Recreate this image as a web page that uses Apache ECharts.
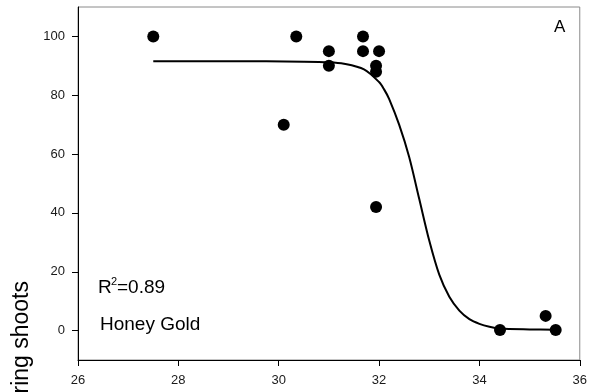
<!DOCTYPE html>
<html>
<head>
<meta charset="utf-8">
<script src="https://cdn.jsdelivr.net/npm/echarts@6/dist/echarts.min.js"></script>
<style>
  html, body { margin: 0; padding: 0; background: #fff; }
  #chart { width: 590px; height: 392px; }
</style>
</head>
<body>
<div id="chart"></div>
<script>
// Observed flowering shoots (%) against temperature for Honey Gold
const obsTemp = [27.5, 30.1, 30.35, 31.0, 31.0, 31.68, 31.68, 32.0, 31.94, 31.94, 31.94, 34.41, 35.32, 35.52];
const obsFlowering = [100, 70, 100, 95, 90, 100, 95, 95, 90, 88, 42, 0.2, 5, 0.2];

// Fitted response curve, sampled along its length
const fitTemp = [27.5, 29.0, 30.5, 31.0, 31.3, 31.7, 32.0, 32.1, 32.2, 32.4, 32.6, 32.8, 33.0, 33.2, 33.4, 33.6, 33.8, 34.0, 34.2, 34.4, 35.0, 35.5];
const fitFlowering = [91.6, 91.6, 91.4, 91.2, 90.7, 88.8, 84.5, 82.0, 78.8, 70.0, 59.0, 44.8, 30.6, 19.0, 11.5, 6.8, 3.9, 2.3, 1.3, 0.7, 0.4, 0.3];

// Axis ticks
const xTicks = [26, 28, 30, 32, 34, 36];
const yTicks = [0, 20, 40, 60, 80, 100];

const labelFont = 'Liberation Sans, Arial, sans-serif';

const chart = echarts.init(document.getElementById('chart'), null, { renderer: 'canvas' });

chart.setOption({
  animation: false,
  backgroundColor: '#ffffff',
  grid: {
    left: 78, right: 10, top: 7, bottom: 32,
    show: true, borderColor: '#8a8a8a', borderWidth: 1, backgroundColor: 'transparent'
  },
  xAxis: {
    type: 'value',
    min: xTicks[0], max: xTicks[xTicks.length - 1], interval: 2,
    axisLine: { onZero: false, lineStyle: { color: '#000', width: 1 } },
    axisTick: { show: true, length: 6, lineStyle: { color: '#000' } },
    axisLabel: { color: '#1a1a1a', fontFamily: labelFont, fontSize: 13, margin: 14 },
    splitLine: { show: false }
  },
  yAxis: {
    type: 'value',
    min: -10, max: 110,
    axisLine: { show: true, onZero: false, lineStyle: { color: '#000', width: 1 } },
    axisTick: { show: true, length: 6, customValues: yTicks, lineStyle: { color: '#000' } },
    axisLabel: { color: '#1a1a1a', fontFamily: labelFont, fontSize: 13, margin: 13, customValues: yTicks },
    splitLine: { show: false }
  },
  series: [
    {
      type: 'line',
      data: fitTemp.map((t, i) => [t, fitFlowering[i]]),
      smooth: 0.3,
      showSymbol: false,
      symbol: 'none',
      lineStyle: { color: '#000', width: 2 },
      z: 2
    },
    {
      type: 'scatter',
      data: obsTemp.map((t, i) => [t, obsFlowering[i]]),
      symbol: 'circle',
      symbolSize: 12,
      itemStyle: { color: '#000', opacity: 1 },
      emphasis: { disabled: true },
      z: 3
    }
  ],
  graphic: [
    {
      type: 'text', left: 98, top: 278,
      style: { text: 'R', fontSize: 19, fontFamily: labelFont, fill: '#000' }
    },
    {
      type: 'text', left: 111, top: 276,
      style: { text: '2', fontSize: 11, fontFamily: labelFont, fill: '#000' }
    },
    {
      type: 'text', left: 117, top: 278,
      style: { text: '=0.89', fontSize: 19, fontFamily: labelFont, fill: '#000' }
    },
    {
      type: 'text', left: 100, top: 315,
      style: { text: 'Honey Gold', fontSize: 19, fontFamily: labelFont, fill: '#000' }
    },
    {
      type: 'text', left: 554, top: 19,
      style: { text: 'A', fontSize: 17, fontFamily: labelFont, fill: '#000' }
    },
    {
      type: 'text', x: 10, y: 281, rotation: Math.PI / 2,
      style: {
        text: 'Flowering shoots', fontSize: 23, fontFamily: labelFont, fill: '#000',
        align: 'right', verticalAlign: 'top'
      }
    }
  ]
});
</script>
</body>
</html>
